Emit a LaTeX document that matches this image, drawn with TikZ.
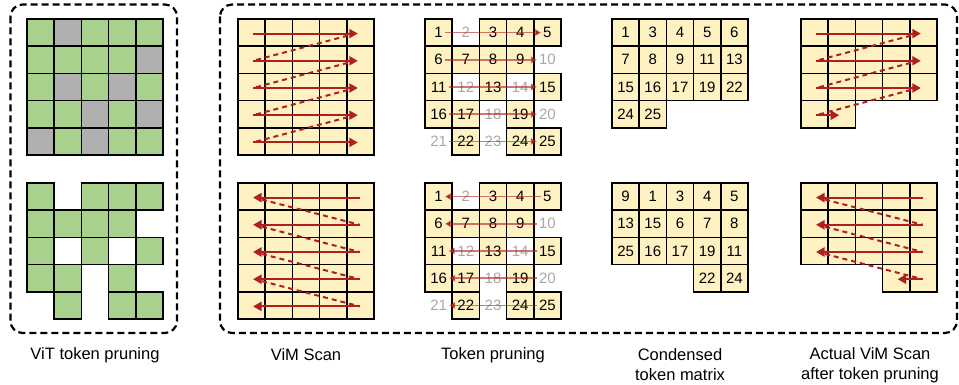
\documentclass[tikz,border=0pt]{standalone}
\usepackage{fontspec}
\setmainfont{Liberation Sans}
\usetikzlibrary{arrows.meta}
\definecolor{vitgreen}{HTML}{A9D18E}
\definecolor{prunegray}{HTML}{B0B0B0}
\definecolor{tokyellow}{HTML}{FFF2C2}
\definecolor{scanred}{HTML}{B01E1E}
\definecolor{dropgray}{HTML}{A8A8A8}
\newcommand{\keptlist}{1/1,3/1,4/1,5/1,1/2,2/2,3/2,4/2,1/3,3/3,5/3,1/4,2/4,4/4,2/5,4/5,5/5}
\newcommand{\prunedlist}{2/1,5/2,2/3,4/3,3/4,5/4,1/5,3/5}
\newcommand{\tokcell}[5]{%
  \draw[cellline,fill=#5] ({#1+(#3-1)*27.2},{#2+(#4-1)*27.2}) rectangle ++(27.2,27.2);
}
\newcommand{\toknum}[7]{%
  \node[#5] (#6) at ({#1+(#3-.5)*27.2},{#2+(#4-.5)*27.2}) {#7};
}
\newcommand{\rowright}[5]{%
  \coordinate (#5-s) at ({#1+15},{#2+(#3-.5)*27.2+1});
  \coordinate (#5-e) at ({#1+(#4-1)*27.2+11},{#2+(#3-.5)*27.2+1});
  \draw[scanarrow] (#5-s) -- (#5-e);
}
\newcommand{\rowleft}[5]{%
  \coordinate (#5-s) at ({#1+4*27.2+13},{#2+(#3-.5)*27.2+1});
  \coordinate (#5-e) at ({#1+(#4-1)*27.2+15},{#2+(#3-.5)*27.2+1});
  \draw[scanarrow] (#5-s) -- (#5-e);
}

\begin{document}
\begin{tikzpicture}[x=1pt,y=-1pt,
  cellline/.style={draw=black,line width=1.5pt},
  tokfont/.style={inner sep=2pt,font=\fontsize{15}{18}\selectfont},
  dropfont/.style={tokfont,text=dropgray},
  scanarrow/.style={draw=scanred,line width=2pt,-{Triangle[length=8.5pt,width=9pt]}},
  scanjump/.style={draw=scanred,line width=2pt,dash pattern=on 5pt off 4pt},
  droparrow/.style={draw=scanred,draw opacity=.6,line width=1.5pt,-{Triangle[length=6pt,width=6.5pt]}},
  panel/.style={draw=black,line width=2.2pt,dash pattern=on 7pt off 4pt,rounded corners=12pt},
  caption/.style={align=center,font=\fontsize{16.5}{20}\selectfont}]
  \useasboundingbox (0,0) rectangle (959,385);

  \draw[panel] (10.5,4.5) rectangle (177,333);
  \draw[panel] (220,4.5) rectangle (957,333);

  \foreach \c in {1,...,5}{\foreach \r in {1,...,5}{\tokcell{27}{19}{\c}{\r}{vitgreen}}}
  \foreach \c/\r in \prunedlist{\tokcell{27}{19}{\c}{\r}{prunegray}}
  \foreach \c/\r in \keptlist{\tokcell{27}{183}{\c}{\r}{vitgreen}}

  \foreach \y in {19,183}{\foreach \c in {1,...,5}{\foreach \r in {1,...,5}{\tokcell{238}{\y}{\c}{\r}{tokyellow}}}}

  \foreach \y/\s in {19/A,183/B}{
    \foreach \c/\r in \keptlist{
      \pgfmathtruncatemacro\n{(\r-1)*5+\c}
      \tokcell{425}{\y}{\c}{\r}{tokyellow}
      \toknum{425}{\y}{\c}{\r}{tokfont}{tp\s\n}{\n}
    }
    \foreach \c/\r in \prunedlist{
      \pgfmathtruncatemacro\n{(\r-1)*5+\c}
      \toknum{425}{\y}{\c}{\r}{dropfont}{tp\s\n}{\n}
    }
  }

  \foreach \c/\r/\n in {1/1/1,2/1/3,3/1/4,4/1/5,5/1/6,1/2/7,2/2/8,3/2/9,4/2/11,5/2/13,
      1/3/15,2/3/16,3/3/17,4/3/19,5/3/22,1/4/24,2/4/25}{
    \tokcell{612}{19}{\c}{\r}{tokyellow}
    \toknum{612}{19}{\c}{\r}{tokfont}{cdA\n}{\n}
  }
  \foreach \c/\r/\n in {1/1/9,2/1/1,3/1/3,4/1/4,5/1/5,1/2/13,2/2/15,3/2/6,4/2/7,5/2/8,
      1/3/25,2/3/16,3/3/17,4/3/19,5/3/11,4/4/22,5/4/24}{
    \tokcell{612}{183}{\c}{\r}{tokyellow}
    \toknum{612}{183}{\c}{\r}{tokfont}{cdB\n}{\n}
  }

  \foreach \c in {1,...,5}{\foreach \r in {1,2,3}{
    \tokcell{801}{19}{\c}{\r}{tokyellow}
    \tokcell{801}{183}{\c}{\r}{tokyellow}}}
  \foreach \c in {1,2}{\tokcell{801}{19}{\c}{4}{tokyellow}}
  \foreach \c in {4,5}{\tokcell{801}{183}{\c}{4}{tokyellow}}

  \foreach \r in {1,...,5}{
    \rowright{238}{19}{\r}{5}{vsA\r}
    \rowleft{238}{183}{\r}{1}{vsB\r}
  }
  \foreach \r in {1,2,3}{
    \rowright{801}{19}{\r}{5}{avA\r}
    \rowleft{801}{183}{\r}{1}{avB\r}
  }
  \rowright{801}{19}{4}{2}{avA4}
  \rowleft{801}{183}{4}{4}{avB4}
  \foreach \r [evaluate=\r as \q using int(\r+1)] in {1,...,4}{
    \draw[scanjump] ([shift={(-10,2)}]vsA\r-e) -- (vsA\q-s);
    \draw[scanjump] ([shift={(9,2)}]vsB\r-e) -- (vsB\q-s);
  }
  \foreach \r [evaluate=\r as \q using int(\r+1)] in {1,2,3}{
    \draw[scanjump] ([shift={(-10,2)}]avA\r-e) -- (avA\q-s);
    \draw[scanjump] ([shift={(9,2)}]avB\r-e) -- (avB\q-s);
  }

  \foreach \r in {1,...,5}{
    \pgfmathtruncatemacro\a{(\r-1)*5+1}
    \pgfmathtruncatemacro\b{\r*5}
    \draw[droparrow] (tpA\a) -- (tpA\b);
    \draw[droparrow] (tpB\b) -- (tpB\a);
  }

  \node[caption] (capvit) at (95,355) {ViT token pruning};
  \node[caption] (capvim) at (306,355) {ViM Scan};
  \node[caption] (captp) at (493,355) {Token pruning};
  \node[caption] (capcd) at (680,365) {Condensed\\token matrix};
  \node[caption] (capav) at (870,365) {Actual ViM Scan\\after token pruning};
\end{tikzpicture}
\end{document}
